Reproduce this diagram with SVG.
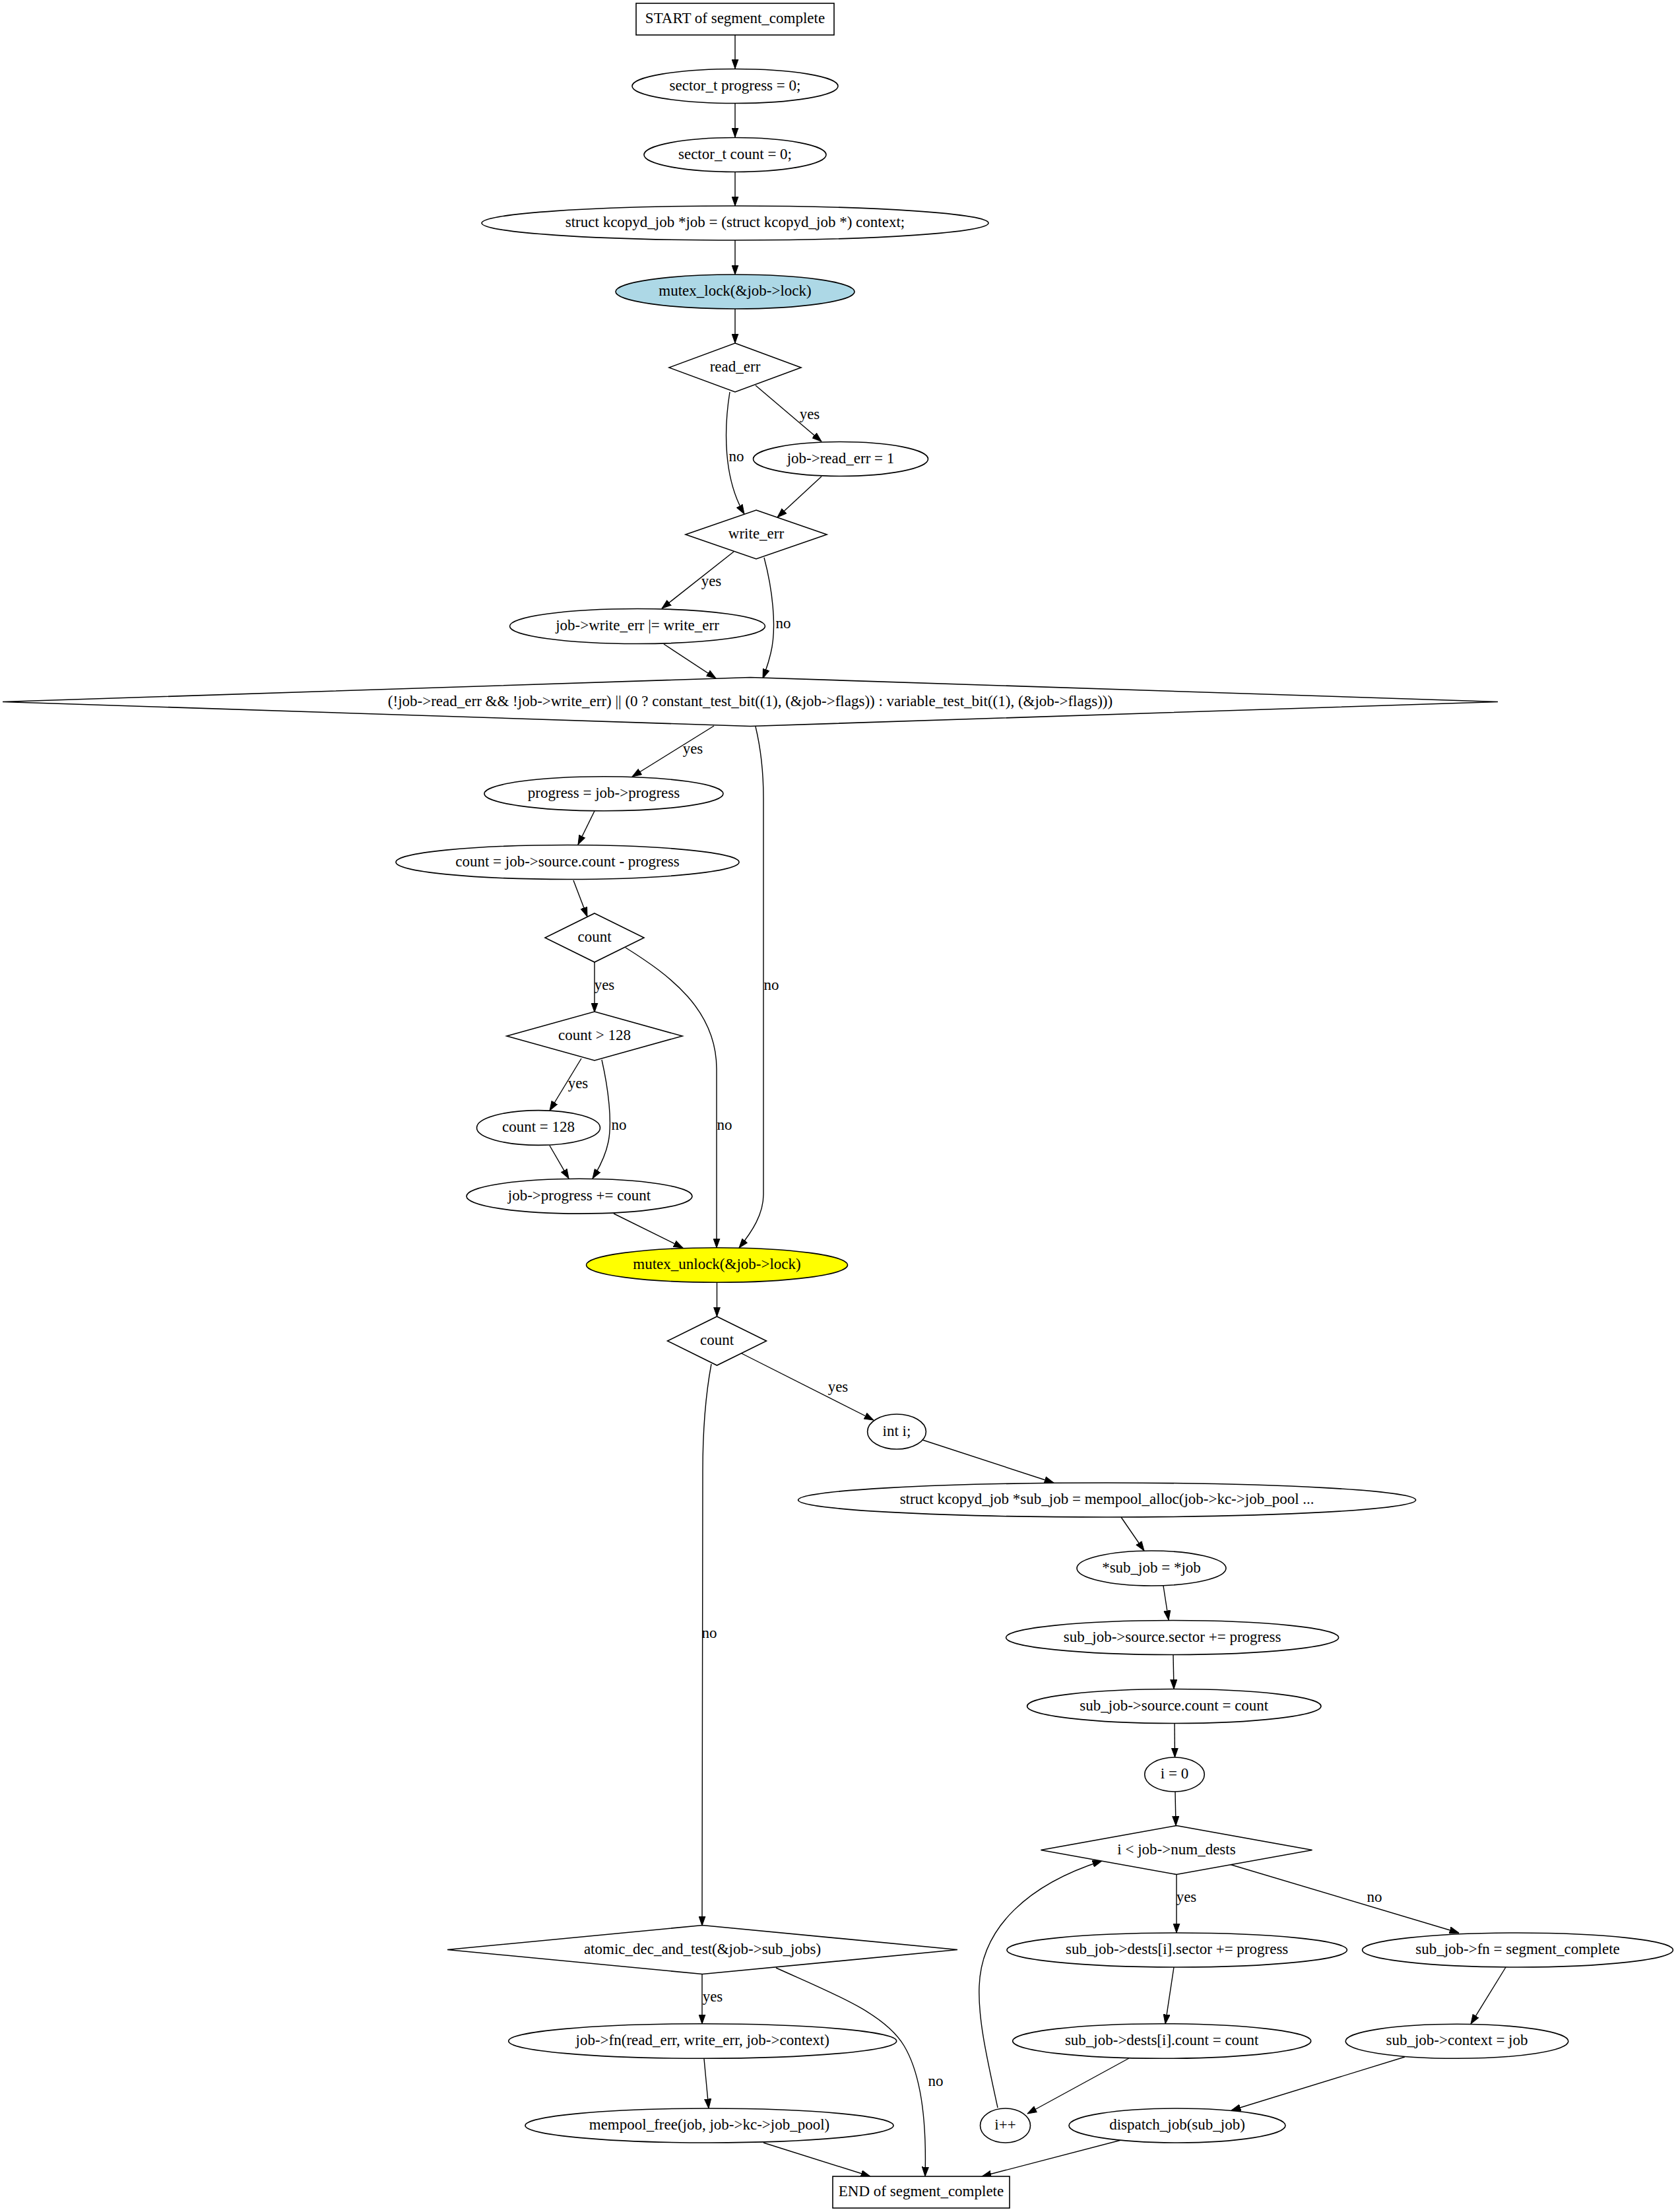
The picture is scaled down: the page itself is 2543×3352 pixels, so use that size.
<svg xmlns="http://www.w3.org/2000/svg" width="2543" height="3352" viewBox="0 0 2543 3352">
<defs>
<marker id="ah" markerUnits="userSpaceOnUse" markerWidth="15" markerHeight="11" viewBox="0 0 15 11" refX="14.4" refY="5.5" orient="auto">
<path d="M0,0.45 L14.4,5.5 L0,10.55 z" fill="#000" stroke="#000" stroke-width="1"/>
</marker>
</defs>
<style>
.n{fill:#fff;stroke:#000;stroke-width:1.6}
.e{fill:none;stroke:#000;stroke-width:1.4;marker-end:url(#ah)}
text{font-family:"Liberation Serif","Times New Roman",serif;font-size:23px;text-anchor:middle;fill:#000}
</style>
<rect x="0" y="0" width="2543" height="3352" fill="#fff"/>

<g id="edges">
<path class="e" d="M1114,53 L1114,104"/>
<path class="e" d="M1114,157 L1114,208"/>
<path class="e" d="M1114,261 L1114,312"/>
<path class="e" d="M1114,364 L1114,416"/>
<path class="e" d="M1114,468 L1114,520"/>
<path class="e" d="M1145,584 L1245,669"/>
<text x="1227" y="635">yes</text>
<path class="e" d="M1106,594 C1097,650 1096,725 1128,779"/>
<text x="1116" y="699">no</text>
<path class="e" d="M1245,722 L1178,784"/>
<path class="e" d="M1112,836 L1003,922"/>
<text x="1078" y="888">yes</text>
<path class="e" d="M1158,845 C1170,890 1178,950 1168,990 C1165,1003 1161,1015 1156,1028"/>
<text x="1187" y="952">no</text>
<path class="e" d="M1006,976 L1085,1028"/>
<path class="e" d="M1082,1100 L958,1177"/>
<text x="1050" y="1142">yes</text>
<path class="e" d="M1145,1101 C1152,1130 1157,1170 1157,1210 L1157,1810 C1157,1840 1140,1866 1120,1891"/>
<text x="1169" y="1500">no</text>
<path class="e" d="M901,1229 L876,1280"/>
<path class="e" d="M869,1334 L890,1389"/>
<path class="e" d="M901,1458 L901,1534"/>
<text x="916" y="1500">yes</text>
<path class="e" d="M948,1436 C1015,1478 1086,1530 1086,1620 L1086,1891"/>
<text x="1098" y="1712">no</text>
<path class="e" d="M881,1604 L833,1683"/>
<text x="876" y="1649">yes</text>
<path class="e" d="M912,1606 C922,1650 928,1700 922,1730 C918,1750 908,1770 898,1786"/>
<text x="938" y="1712">no</text>
<path class="e" d="M833,1736 L862,1786"/>
<path class="e" d="M930,1839 L1035,1891"/>
<path class="e" d="M1086.5,1943.5 L1086.5,1995"/>
<path class="e" d="M1124,2051 L1324,2152"/>
<text x="1270" y="2109">yes</text>
<path class="e" d="M1078,2067 C1070,2110 1065,2170 1065,2230 L1064,2918"/>
<text x="1075" y="2482">no</text>
<path class="e" d="M1398,2182 L1597,2247"/>
<path class="e" d="M1699,2299 L1734,2350"/>
<path class="e" d="M1763,2403 L1771,2455"/>
<path class="e" d="M1778,2508 L1779,2559.5"/>
<path class="e" d="M1780,2611.5 L1780.5,2663"/>
<path class="e" d="M1781,2715 L1782,2766.5"/>
<path class="e" d="M1783,2840.5 L1783,2929"/>
<text x="1798" y="2882">yes</text>
<path class="e" d="M1863,2825 L2211,2929"/>
<text x="2083" y="2882">no</text>
<path class="e" d="M1779,2981 L1766,3067"/>
<path class="e" d="M2282,2981 L2229,3067"/>
<path class="e" d="M1711,3119 L1557,3203"/>
<path class="e" d="M1512,3194 C1496,3120 1482,3060 1484,3010 C1487,2920 1560,2855 1670,2820"/>
<path class="e" d="M2129,3117 L1866,3198"/>
<path class="e" d="M1064,2991.5 L1064,3067"/>
<text x="1080" y="3033">yes</text>
<path class="e" d="M1176,2982 C1260,3020 1340,3050 1370,3100 C1400,3150 1404,3230 1402,3298"/>
<text x="1418" y="3161">no</text>
<path class="e" d="M1067,3120 L1074,3195"/>
<path class="e" d="M1157,3247 L1319,3298"/>
<path class="e" d="M1699,3243 L1488,3298"/>
</g>

<g id="n_start"><rect class="n" x="964" y="5" width="300" height="48"/><text x="1114" y="35">START of segment_complete</text></g>
<g id="n_progress0"><ellipse class="n" cx="1114" cy="130.5" rx="156" ry="26"/><text x="1114" y="136.5">sector_t progress = 0;</text></g>
<g id="n_count0"><ellipse class="n" cx="1114" cy="234.5" rx="138" ry="26"/><text x="1114" y="240.5">sector_t count = 0;</text></g>
<g id="n_jobdecl"><ellipse class="n" cx="1114" cy="338" rx="384" ry="26"/><text x="1114" y="344">struct kcopyd_job *job = (struct kcopyd_job *) context;</text></g>
<g id="n_lock"><ellipse class="n" cx="1114" cy="442" rx="181" ry="26" style="fill:#add8e6"/><text x="1114" y="448">mutex_lock(&amp;job-&gt;lock)</text></g>
<g id="n_read_err"><polygon class="n" points="1114,520 1214,557 1114,594 1014,557"/><text x="1114" y="563">read_err</text></g>
<g id="n_set_read_err"><ellipse class="n" cx="1274" cy="695.5" rx="132.5" ry="26"/><text x="1274" y="701.5">job-&gt;read_err = 1</text></g>
<g id="n_write_err"><polygon class="n" points="1146,773 1253,810 1146,847 1039,810"/><text x="1146" y="816">write_err</text></g>
<g id="n_set_write_err"><ellipse class="n" cx="966" cy="949" rx="193.5" ry="26.5"/><text x="966" y="955">job-&gt;write_err |= write_err</text></g>
<g id="n_cond"><polygon class="n" points="1137,1026.5 2270,1063.5 1137,1100.5 4,1063.5"/><text x="1137" y="1069.5">(!job-&gt;read_err &amp;&amp; !job-&gt;write_err) || (0 ? constant_test_bit((1), (&amp;job-&gt;flags)) : variable_test_bit((1), (&amp;job-&gt;flags)))</text></g>
<g id="n_progress"><ellipse class="n" cx="915" cy="1202.7" rx="181" ry="26"/><text x="915" y="1208.7">progress = job-&gt;progress</text></g>
<g id="n_count_calc"><ellipse class="n" cx="860" cy="1306.5" rx="260" ry="26"/><text x="860" y="1312.5">count = job-&gt;source.count - progress</text></g>
<g id="n_count_test"><polygon class="n" points="901,1384 976,1421 901,1458 826,1421"/><text x="901" y="1427">count</text></g>
<g id="n_count_gt"><polygon class="n" points="901,1533 1034,1570 901,1607 768,1570"/><text x="901" y="1576">count &gt; 128</text></g>
<g id="n_count_128"><ellipse class="n" cx="816" cy="1709" rx="93.5" ry="26.4"/><text x="816" y="1715">count = 128</text></g>
<g id="n_progress_add"><ellipse class="n" cx="878" cy="1812.7" rx="171" ry="26.4"/><text x="878" y="1818.7">job-&gt;progress += count</text></g>
<g id="n_unlock"><ellipse class="n" cx="1086.5" cy="1917" rx="198" ry="26.3" style="fill:#ffff00"/><text x="1086.5" y="1923">mutex_unlock(&amp;job-&gt;lock)</text></g>
<g id="n_count2"><polygon class="n" points="1086.5,1995 1161.5,2032 1086.5,2069 1011.5,2032"/><text x="1086.5" y="2038">count</text></g>
<g id="n_int_i"><ellipse class="n" cx="1359" cy="2169.5" rx="44.4" ry="26.5"/><text x="1359" y="2175.5">int i;</text></g>
<g id="n_sub_alloc"><ellipse class="n" cx="1677.6" cy="2273" rx="468" ry="26"/><text x="1677.6" y="2279">struct kcopyd_job *sub_job = mempool_alloc(job-&gt;kc-&gt;job_pool ...</text></g>
<g id="n_sub_copy"><ellipse class="n" cx="1745" cy="2376.5" rx="113" ry="26.5"/><text x="1745" y="2382.5">*sub_job = *job</text></g>
<g id="n_src_sector"><ellipse class="n" cx="1776.6" cy="2481.5" rx="252" ry="26"/><text x="1776.6" y="2487.5">sub_job-&gt;source.sector += progress</text></g>
<g id="n_src_count"><ellipse class="n" cx="1779.3" cy="2585.5" rx="222.7" ry="26"/><text x="1779.3" y="2591.5">sub_job-&gt;source.count = count</text></g>
<g id="n_i0"><ellipse class="n" cx="1780" cy="2689" rx="45.3" ry="26"/><text x="1780" y="2695">i = 0</text></g>
<g id="n_loop"><polygon class="n" points="1783,2766.5 1988.6,2803.5 1783,2840.5 1577.4,2803.5"/><text x="1783" y="2809.5">i &lt; job-&gt;num_dests</text></g>
<g id="n_dst_sector"><ellipse class="n" cx="1783.7" cy="2955" rx="257.7" ry="26"/><text x="1783.7" y="2961">sub_job-&gt;dests[i].sector += progress</text></g>
<g id="n_fn"><ellipse class="n" cx="2300" cy="2955" rx="235.4" ry="26"/><text x="2300" y="2961">sub_job-&gt;fn = segment_complete</text></g>
<g id="n_dst_count"><ellipse class="n" cx="1760.7" cy="3093" rx="226" ry="26.3"/><text x="1760.7" y="3099">sub_job-&gt;dests[i].count = count</text></g>
<g id="n_context"><ellipse class="n" cx="2208" cy="3093.3" rx="168.8" ry="26"/><text x="2208" y="3099.3">sub_job-&gt;context = job</text></g>
<g id="n_inc"><ellipse class="n" cx="1523.5" cy="3221" rx="38" ry="26"/><text x="1523.5" y="3227">i++</text></g>
<g id="n_dispatch"><ellipse class="n" cx="1784" cy="3221" rx="164" ry="26"/><text x="1784" y="3227">dispatch_job(sub_job)</text></g>
<g id="n_atomic"><polygon class="n" points="1064.5,2917.5 1451,2954.5 1064.5,2991.5 678,2954.5"/><text x="1064.5" y="2960.5">atomic_dec_and_test(&amp;job-&gt;sub_jobs)</text></g>
<g id="n_jobfn"><ellipse class="n" cx="1064.7" cy="3093" rx="294" ry="26.3"/><text x="1064.7" y="3099">job-&gt;fn(read_err, write_err, job-&gt;context)</text></g>
<g id="n_free"><ellipse class="n" cx="1075" cy="3221" rx="279" ry="26"/><text x="1075" y="3227">mempool_free(job, job-&gt;kc-&gt;job_pool)</text></g>
<g id="n_end"><rect class="n" x="1262" y="3298" width="268" height="48"/><text x="1396" y="3328">END of segment_complete</text></g>
</svg>
